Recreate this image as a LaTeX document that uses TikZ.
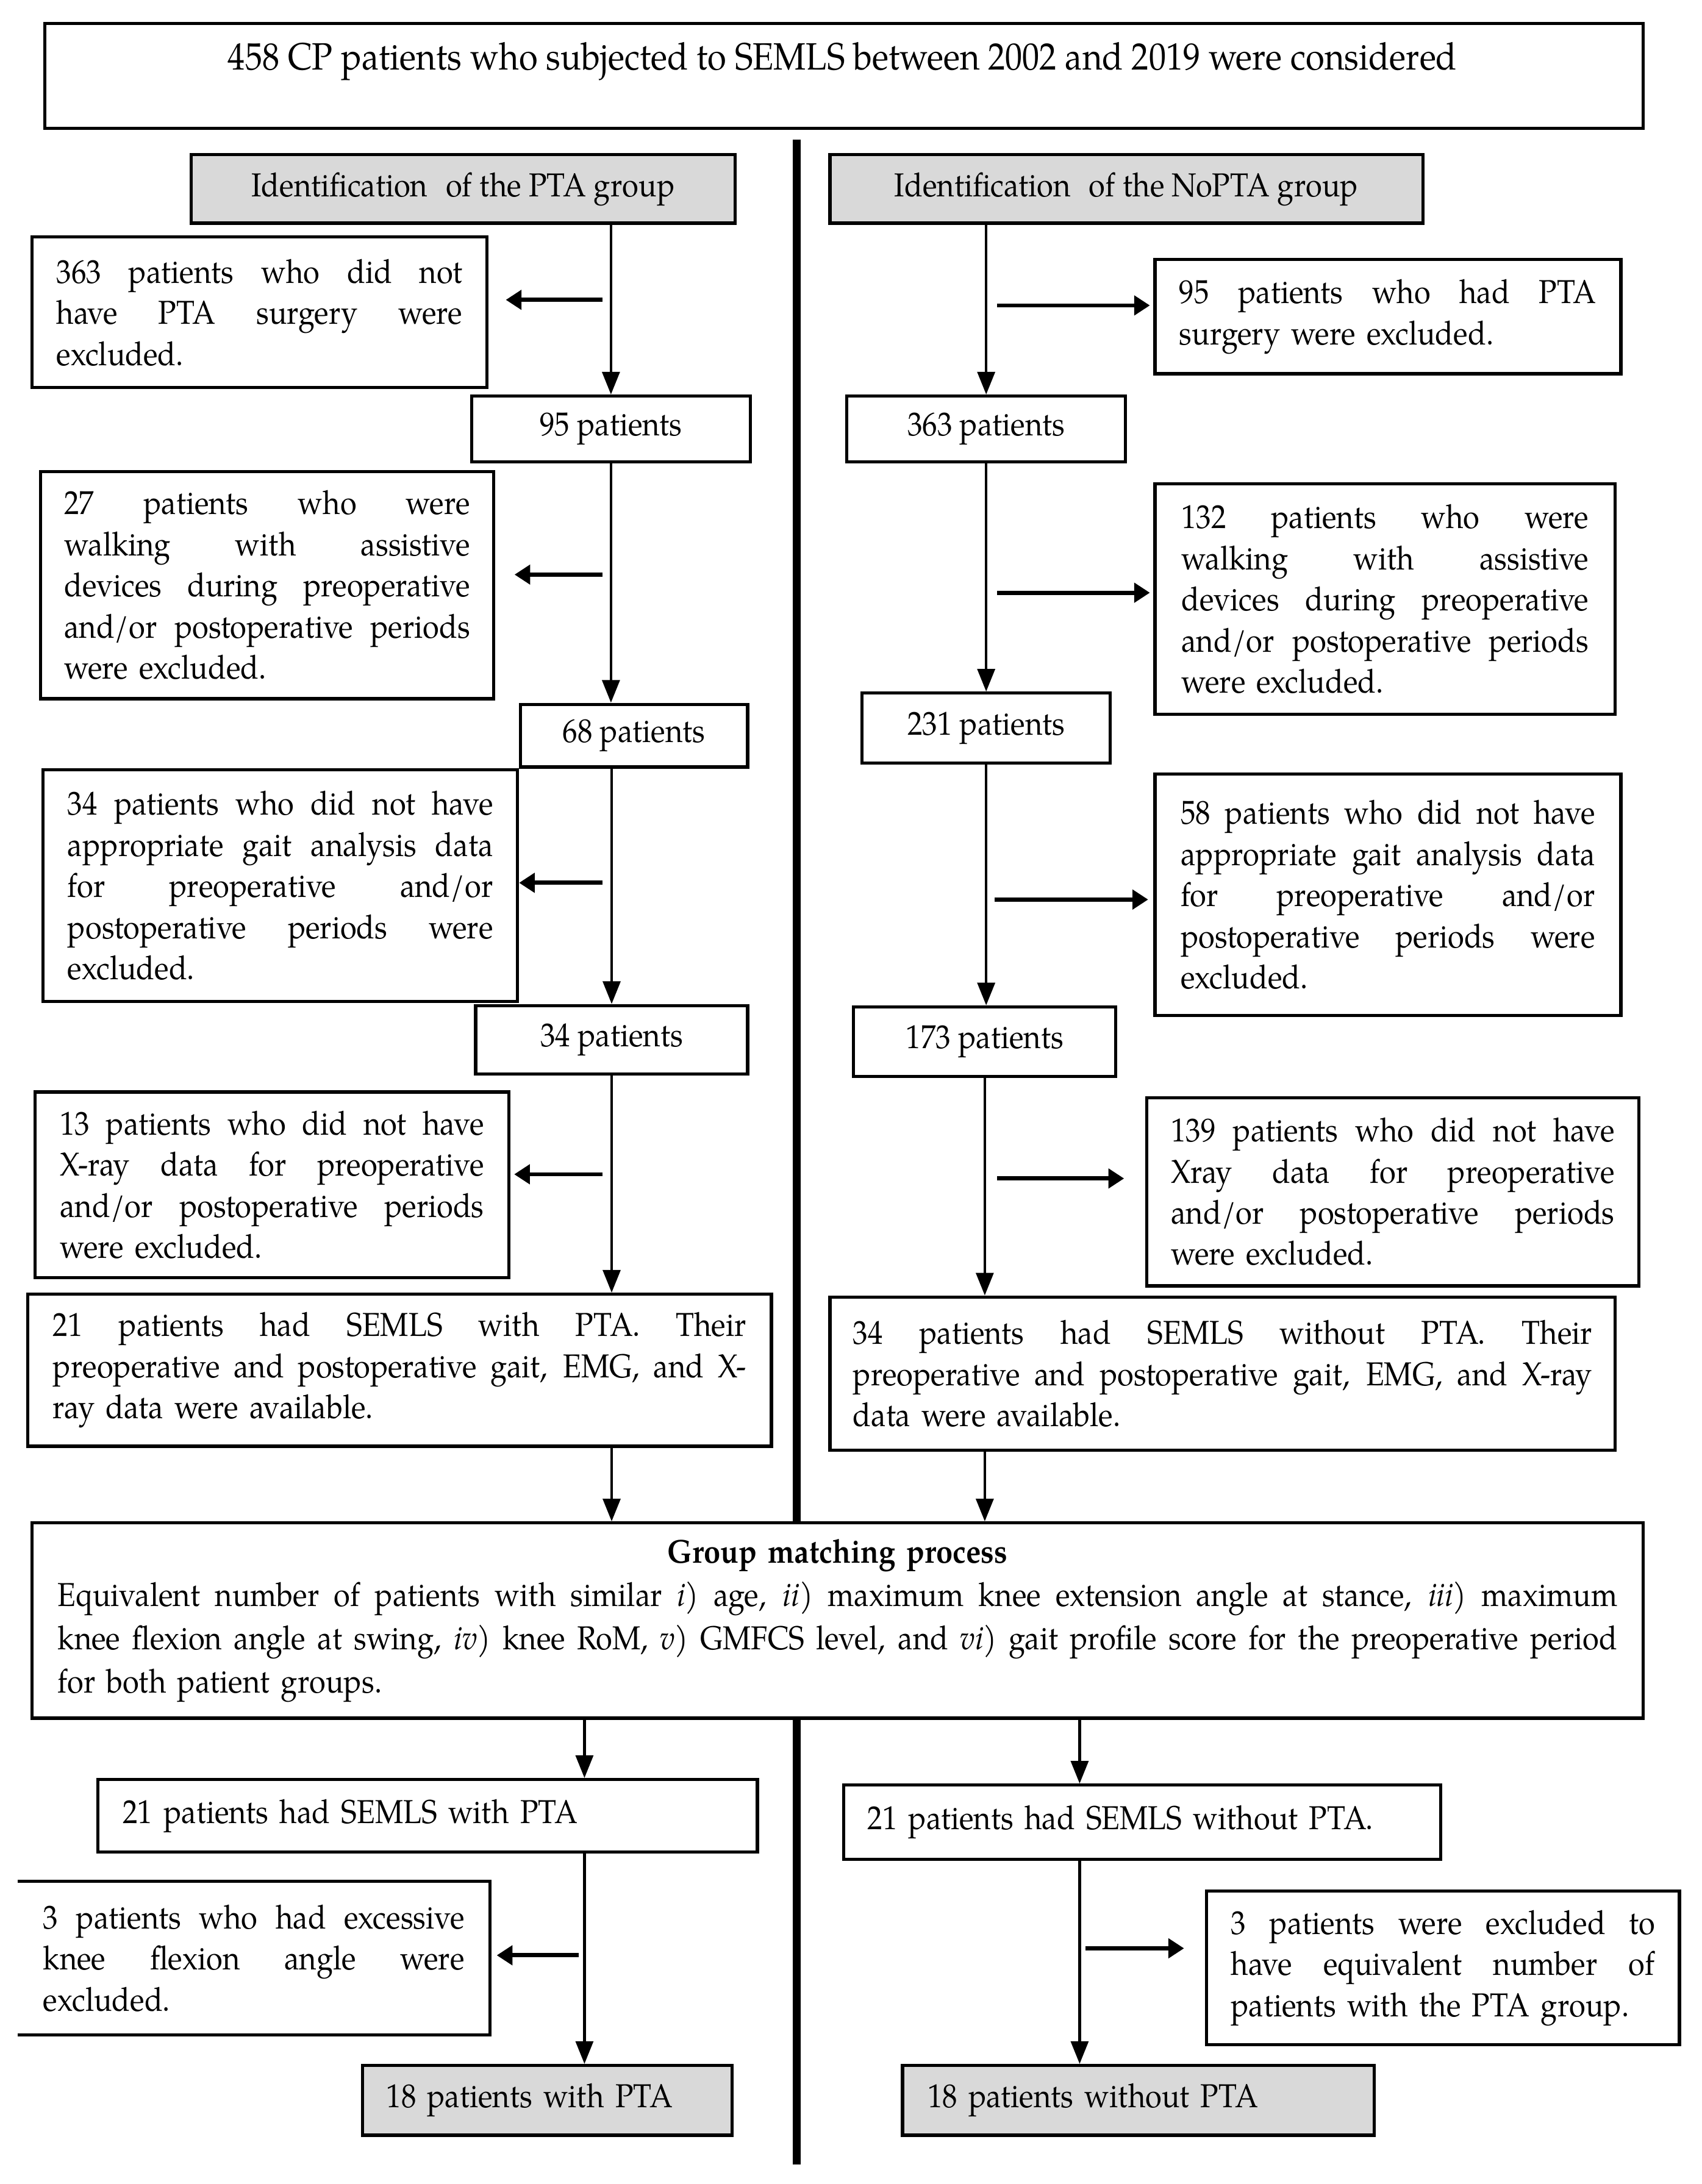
\documentclass[tikz,border=0pt]{standalone}
\usepackage{fontspec}
\setmainfont{TeX Gyre Pagella}[FakeStretch=0.9]
\usetikzlibrary{arrows.meta,calc}
\definecolor{boxgray}{RGB}{217,217,217}
\newcommand\JL[1]{{\spaceskip=0pt\xspaceskip=0pt\makebox[\hsize][s]{#1}}}
\begin{document}
\begin{tikzpicture}[x=0.4pt,y=-0.4pt,
  box/.style={draw=black,line width=0.9pt,inner sep=0pt,fill=white,font=\fontsize{9.5}{11.8}\selectfont},
  grayb/.style={box,fill=boxgray},
  flow/.style={line width=0.8pt,-{Triangle[width=5pt,length=6.5pt]}},
  excl/.style={line width=1.2pt,-{Triangle[width=5.5pt,length=4.5pt]}},
  divider/.style={line width=2.3pt}]
\useasboundingbox (0,0) rectangle (1220,1566);
% top
\node[box,minimum width=458.4pt,minimum height=30pt] (top) at (605,54.5) {};
\node[font=\fontsize{10.9}{13}\selectfont,inner sep=0pt] (toptext) at (604,44) {458 CP patients who subjected to SEMLS between 2002 and 2019 were considered};
% headers
\node[grayb,minimum width=156pt,minimum height=19.6pt] (idPTA) at (332,135.5) {Identification\hspace{0.55em}of the PTA group};
\node[grayb,minimum width=170pt,minimum height=19.6pt] (idNo) at (807.5,135.5) {Identification\hspace{0.55em}of the NoPTA group};
% left column
\node[box,minimum width=130.4pt,minimum height=43.2pt,text width=116.4pt,align=left] (ex1L) at (186,224) {\JL{363 patients who did not}\\\JL{have PTA surgery were}\\excluded.};
\node[box,minimum width=80pt,minimum height=18.8pt] (p95) at (438,307.5) {95 patients};
\node[box,minimum width=130pt,minimum height=65.2pt,text width=116.4pt,align=left] (ex2L) at (191.5,419.5) {\JL{27 patients who were}\\\JL{walking with assistive}\\\JL{devices during preoperative}\\\JL{and/or postoperative periods}\\were excluded.};
\node[box,minimum width=65.2pt,minimum height=18pt] (p68) at (454.5,527.5) {68 patients};
\node[box,minimum width=136pt,minimum height=66.4pt,text width=122pt,align=left] (ex3L) at (201,635) {\JL{34 patients who did not have}\\\JL{appropriate gait analysis data}\\\JL{for preoperative and/or}\\\JL{postoperative periods were}\\excluded.};
\node[box,minimum width=78pt,minimum height=19.6pt] (p34) at (438.5,745.5) {34 patients};
\node[box,minimum width=136pt,minimum height=53.2pt,text width=121.6pt,align=left] (ex4L) at (195,849.5) {\JL{13 patients who did not have}\\\JL{X-ray data for preoperative}\\\JL{and/or postoperative periods}\\were excluded.};
\node[box,minimum width=213.2pt,minimum height=43.6pt,text width=198.8pt,align=left] (finL) at (286.5,982.5) {\JL{21 patients had SEMLS with PTA. Their}\\\JL{preoperative and postoperative gait, EMG, and X-}\\ray data were available.};
% right column
\node[box,minimum width=133.6pt,minimum height=32.8pt,text width=119.6pt,align=left] (ex1R) at (995,227) {\JL{95 patients who had PTA}\\surgery were excluded.};
\node[box,minimum width=80pt,minimum height=18.8pt] (p363) at (707,307.5) {363 patients};
\node[box,minimum width=132pt,minimum height=66pt,text width=116.8pt,align=left] (ex2R) at (993,429.5) {\JL{132 patients who were}\\\JL{walking with assistive}\\\JL{devices during preoperative}\\\JL{and/or postoperative periods}\\were excluded.};
\node[box,minimum width=71.2pt,minimum height=20pt] (p231) at (707,522) {231 patients};
\node[box,minimum width=133.6pt,minimum height=69.2pt,text width=118.8pt,align=left] (ex3R) at (995,641.5) {\JL{58 patients who did not have}\\\JL{appropriate gait analysis data}\\\JL{for preoperative and/or}\\\JL{postoperative periods were}\\excluded.};
\node[box,minimum width=75.2pt,minimum height=20pt] (p173) at (706,747) {173 patients};
\node[box,minimum width=141.2pt,minimum height=54pt,text width=127.2pt,align=left] (ex4R) at (998.5,854.5) {\JL{139 patients who did not have}\\\JL{Xray data for preoperative}\\\JL{and/or postoperative periods}\\were excluded.};
\node[box,minimum width=225.2pt,minimum height=44pt,text width=212pt,align=left] (finR) at (876.5,985) {\JL{34 patients had SEMLS without PTA. Their}\\\JL{preoperative and postoperative gait, EMG, and X-ray}\\data were available.};
% group matching
\node[box,minimum width=462pt,minimum height=56pt,text width=447.2pt,align=left,font=\fontsize{9.5}{12.4}\selectfont] (group) at (600.5,1162) {\makebox[\hsize][c]{\bfseries Group matching process}\\\JL{Equivalent number of patients with similar \textit{i}) age, \textit{ii}) maximum knee extension angle at stance, \textit{iii}) maximum}\\\JL{knee flexion angle at swing, \textit{iv}) knee RoM, \textit{v}) GMFCS level, and \textit{vi}) gait profile score for the preoperative period}\\for both patient groups.};
% bottom
\node[box,minimum width=189.2pt,minimum height=20.8pt,text width=174.8pt,align=left] (mL) at (306.5,1302) {21 patients had SEMLS with PTA};
\node[box,minimum width=171.2pt,minimum height=21.2pt,text width=157.6pt,align=left] (mR) at (819,1306.5) {21 patients had SEMLS without PTA.};
\node[box,draw=none,minimum width=134.4pt,minimum height=43.2pt,text width=120.8pt,align=left] (ex5L) at (182,1404) {\JL{3 patients who had excessive}\\\JL{knee flexion angle were}\\excluded.};
\draw[line width=0.9pt] (ex5L.north west) -- (ex5L.north east) -- (ex5L.south east) -- (ex5L.south west);
\node[box,minimum width=135.6pt,minimum height=44pt,text width=121.6pt,align=left] (ex5R) at (1034.5,1411) {\JL{3 patients were excluded to}\\\JL{have equivalent number of}\\patients with the PTA group.};
\node[grayb,minimum width=106pt,minimum height=20pt,text width=92.4pt,align=left] (fL) at (392.5,1506) {18 patients with PTA};
\node[grayb,minimum width=135.2pt,minimum height=20pt,text width=120.8pt,align=left] (fR) at (816,1506) {18 patients without PTA};
% coordinates
\coordinate (colL) at (419,0);
\coordinate (colR) at (774,0);
\coordinate (div) at (571,0);
\coordinate (divT) at (571,100);
\coordinate (divB) at (571,1552);
% divider
\draw[divider] (divT) -- (group.north -| div);
\draw[divider] (group.south -| div) -- (divB);
% flows
\draw[flow] (idPTA.south -| p95.north) -- (p95.north);
\draw[flow] (p95.south) -- (p95.south |- p68.north);
\draw[flow] (p34.north |- p68.south) -- (p34.north);
\draw[flow] (p34.south) -- (p34.south |- finL.north);
\draw[flow] (finL.south -| p34.south) -- (group.north -| p34.south);
\draw[flow] (idNo.south -| p363.north) -- (p363.north);
\draw[flow] (p363.south) -- (p231.north);
\draw[flow] (p231.south) -- (p231.south |- p173.north);
\draw[flow] (p173.south) -- (p173.south |- finR.north);
\draw[flow] (finR.south -| p173.south) -- (group.north -| p173.south);
\draw[flow] (group.south -| colL) -- (mL.north -| colL);
\draw[flow] (group.south -| colR) -- (mR.north -| colR);
\draw[flow] (mL.south -| colL) -- (fL.north -| colL);
\draw[flow] (mR.south -| colR) -- (fR.north -| colR);
% exclusion arrows
\coordinate (a1) at (432,215);
\coordinate (b1) at (715,219);
\coordinate (a2) at (432,412);
\coordinate (b2) at (715,425);
\coordinate (a3) at (432,633);
\coordinate (b3) at (713,645);
\coordinate (a4) at (432,842);
\coordinate (b4) at (715,845);
\coordinate (a5) at (415,1402);
\coordinate (b5) at (778,1397);
\draw[excl,shorten >=5pt] (a1) -- (a1 -| ex1L.east);
\draw[excl,shorten >=1pt] (b1) -- (b1 -| ex1R.west);
\draw[excl,shorten >=5.5pt] (a2) -- (a2 -| ex2L.east);
\draw[excl,shorten >=1pt] (b2) -- (b2 -| ex2R.west);
\draw[excl] (a3) -- (a3 -| ex3L.east);
\draw[excl,shorten >=1.5pt] (b3) -- (b3 -| ex3R.west);
\draw[excl,shorten >=1pt] (a4) -- (a4 -| ex4L.east);
\draw[excl,shorten >=6pt] (b4) -- (b4 -| ex4R.west);
\draw[excl,shorten >=2pt] (a5) -- (a5 -| ex5L.east);
\draw[excl,shorten >=6pt] (b5) -- (b5 -| ex5R.west);
\end{tikzpicture}
\end{document}
